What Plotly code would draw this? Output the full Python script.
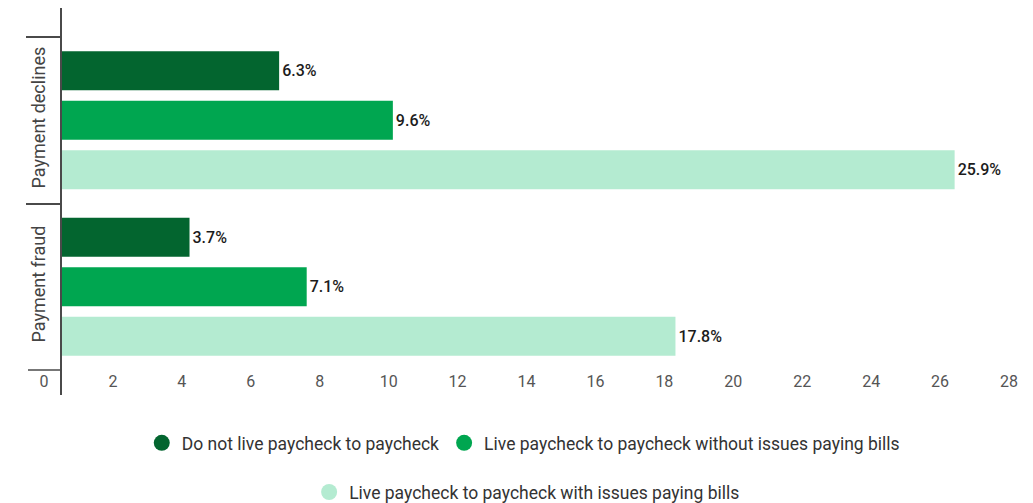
import plotly.graph_objects as go

# Survey categories and the share of respondents in each group (%)
categories = ["Payment declines", "Payment fraud"]
series_names = [
    "Do not live paycheck to paycheck",
    "Live paycheck to paycheck without issues paying bills",
    "Live paycheck to paycheck with issues paying bills",
]
not_paycheck = [6.3, 3.7]
paycheck_no_issues = [9.6, 7.1]
paycheck_with_issues = [25.9, 17.8]
x_ticks = list(range(0, 29, 2))

colors = ["#03652f", "#00a650", "#b4ebd1"]
values = [not_paycheck, paycheck_no_issues, paycheck_with_issues]

fig = go.Figure()

for name, vals, color in zip(series_names, values, colors):
    fig.add_trace(go.Bar(
        y=categories,
        x=vals,
        orientation="h",
        name=name,
        marker=dict(color=color, line=dict(width=0)),
        text=[f"{v}%" for v in vals],
        textposition="outside",
        cliponaxis=False,
        textfont=dict(family="Roboto", size=16, color="#1c1c1c", weight=500),
        showlegend=False,
    ))

# Circular legend markers: first two entries in one row, third one centred below
for i, (name, color) in enumerate(zip(series_names, colors)):
    fig.add_trace(go.Scatter(
        x=[None], y=[None],
        mode="markers",
        name=name,
        marker=dict(color=color, size=22, symbol="circle"),
        legend="legend" if i < 2 else "legend2",
    ))

legend_style = dict(
    orientation="h",
    xanchor="center",
    yanchor="middle",
    font=dict(family="Roboto", size=17.5, color="#333333"),
    bgcolor="rgba(0,0,0,0)",
    itemclick=False,
)

# Closing boundary tick below the last category
fig.add_shape(
    type="line", xref="paper", yref="y",
    x0=-34 / 965, x1=0, y0=1.5, y1=1.5,
    line=dict(color="#4a4a4a", width=1.5),
)

fig.update_layout(
    width=1033,
    height=503,
    margin=dict(l=62, r=6, t=8, b=108, autoexpand=False),
    paper_bgcolor="white",
    plot_bgcolor="white",
    barmode="group",
    bargap=0.108,
    bargroupgap=0.21,
    legend=dict(x=0.478, y=-0.124, **legend_style),
    legend2=dict(x=0.482, y=-0.251, **legend_style),
    xaxis=dict(
        range=[0, 28],
        tickvals=x_ticks,
        ticktext=[str(t) for t in x_ticks],
        showgrid=False,
        zeroline=False,
        showline=False,
        ticks="",
        anchor="free",
        position=0.0646,
        ticklabelshift=-18,
        tickfont=dict(family="Roboto", size=16, color="#555555"),
    ),
    yaxis=dict(
        type="category",
        categoryorder="array",
        categoryarray=categories,
        range=[1.65, -0.674],
        showgrid=False,
        zeroline=False,
        showline=True,
        linecolor="#4a4a4a",
        linewidth=2,
        ticks="outside",
        tickson="boundaries",
        ticklen=34,
        tickwidth=1.5,
        tickcolor="#4a4a4a",
        tickangle=-90,
        ticklabelstandoff=8,
        tickfont=dict(family="Roboto", size=18, color="#444444"),
    ),
)

fig.write_html("out.html")
